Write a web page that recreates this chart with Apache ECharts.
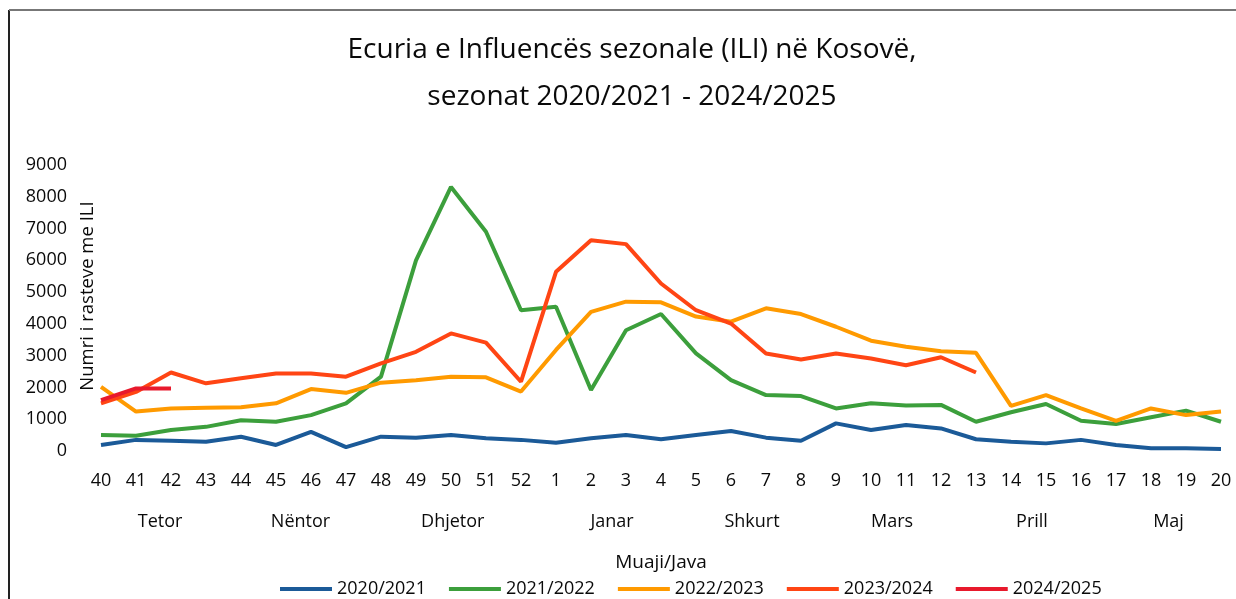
<!DOCTYPE html>
<html>
<head>
<meta charset="utf-8">
<script src="https://cdn.jsdelivr.net/npm/echarts@6/dist/echarts.min.js"></script>
<style>
  html, body { margin: 0; padding: 0; background: #fff; }
  #chart { width: 1236px; height: 599px; }
</style>
</head>
<body>
<div id="chart"></div>
<script>
// weeks of the season (40..52, then 1..20)
var weeks = ['40','41','42','43','44','45','46','47','48','49','50','51','52',
             '1','2','3','4','5','6','7','8','9','10','11','12','13','14','15','16','17','18','19','20'];

var s2020 = [190, 350, 320, 290, 450, 190, 600, 120, 450, 420, 500, 400, 350,
             260, 400, 500, 370, 500, 630, 420, 320, 870, 660, 820, 710, 370, 290, 240, 350, 190, 85, 85, 60];
var s2021 = [500, 480, 660, 760, 970, 920, 1130, 1500, 2340, 6000, 8310, 6900, 4430,
             4540, 1920, 3800, 4310, 3070, 2230, 1760, 1730, 1340, 1500, 1430, 1450, 920, 1220, 1480, 950, 850, 1060, 1270, 920];
var s2022 = [2020, 1240, 1340, 1360, 1380, 1500, 1950, 1830, 2150, 2230, 2340, 2320, 1870,
             3180, 4380, 4700, 4680, 4230, 4070, 4490, 4310, 3910, 3470, 3280, 3140, 3090, 1420, 1760, 1340, 950, 1340, 1130, 1240];
var s2023 = [1500, 1860, 2470, 2130, 2290, 2440, 2440, 2340, 2760, 3120, 3700, 3410, 2180,
             5640, 6630, 6510, 5270, 4430, 4010, 3070, 2880, 3070, 2910, 2700, 2950, 2470];
var s2024 = [1600, 1970, 1970];

var seasons = ['2020/2021', '2021/2022', '2022/2023', '2023/2024', '2024/2025'];
var colors = ['#1b5a98', '#3c9f3c', '#ff9a00', '#ff4514', '#e8192c'];

// month names under the week labels, placed at (fractional) week index
var months = ['Tetor', 'Nëntor', 'Dhjetor', 'Janar', 'Shkurt', 'Mars', 'Prill', 'Maj'];
var monthAt = [1.69, 5.7, 10.05, 14.6, 18.6, 22.6, 26.6, 30.5];

var FONT = '"Open Sans", sans-serif';
var TXT = '#0a0a0a';
var gridLeft = 101, gridRight = 15;
var step = (1236 - gridLeft - gridRight) / (weeks.length - 1);

var chart = echarts.init(document.getElementById('chart'));

var graphics = [
    // scanned frame
    { type: 'line', shape: { x1: 9, y1: 10, x2: 9, y2: 599 }, style: { stroke: '#222', lineWidth: 2 } },
    { type: 'line', shape: { x1: 9, y1: 10, x2: 1236, y2: 10 }, style: { stroke: '#777', lineWidth: 2 } },
    {
        type: 'text', x: 88, y: 296, rotation: Math.PI / 2,
        style: { text: 'Numri i rasteve me ILI', font: '18.5px ' + FONT, fill: TXT, align: 'center', verticalAlign: 'middle' }
    }
];
months.forEach(function (m, i) {
    graphics.push({
        type: 'text', x: gridLeft + monthAt[i] * step, y: 522,
        style: { text: m, font: '18px ' + FONT, fill: TXT, align: 'center', verticalAlign: 'middle' }
    });
});

function mkSeries(name, data, color) {
    return {
        name: name,
        type: 'line',
        data: data,
        showSymbol: false,
        smooth: false,
        lineStyle: { width: 4, color: color },
        itemStyle: { color: color }
    };
}

chart.setOption({
    backgroundColor: '#fff',
    animation: false,
    title: {
        text: 'Ecuria e Influencës sezonale (ILI) në Kosovë,\nsezonat 2020/2021 - 2024/2025',
        left: 627,
        top: 22,
        textAlign: 'center',
        textStyle: { fontFamily: FONT, fontSize: 28, fontWeight: 'normal', color: TXT, lineHeight: 47 }
    },
    legend: {
        data: seasons,
        left: 275,
        top: 575,
        itemWidth: 52,
        itemHeight: 4,
        itemGap: 23,
        icon: 'rect',
        textStyle: { fontFamily: FONT, fontSize: 18, color: TXT }
    },
    grid: { left: gridLeft, right: gridRight, top: 165, bottom: 148 },
    xAxis: {
        type: 'category',
        data: weeks,
        boundaryGap: false,
        axisLine: { show: false },
        axisTick: { show: false },
        axisLabel: { margin: 21, fontFamily: FONT, fontSize: 18, color: TXT, interval: 0 },
        name: 'Muaji/Java',
        nameLocation: 'middle',
        nameGap: 102,
        nameTextStyle: { fontFamily: FONT, fontSize: 19, color: TXT }
    },
    yAxis: {
        type: 'value',
        min: 0,
        max: 9000,
        interval: 1000,
        axisLine: { show: false },
        axisTick: { show: false },
        splitLine: { show: false },
        axisLabel: {
            margin: 34, fontFamily: FONT, fontSize: 18, color: TXT,
            formatter: function (v) { return String(v); }
        }
    },
    graphic: graphics,
    series: [
        mkSeries(seasons[0], s2020, colors[0]),
        mkSeries(seasons[1], s2021, colors[1]),
        mkSeries(seasons[2], s2022, colors[2]),
        mkSeries(seasons[3], s2023, colors[3]),
        mkSeries(seasons[4], s2024, colors[4])
    ]
});
</script>
</body>
</html>
